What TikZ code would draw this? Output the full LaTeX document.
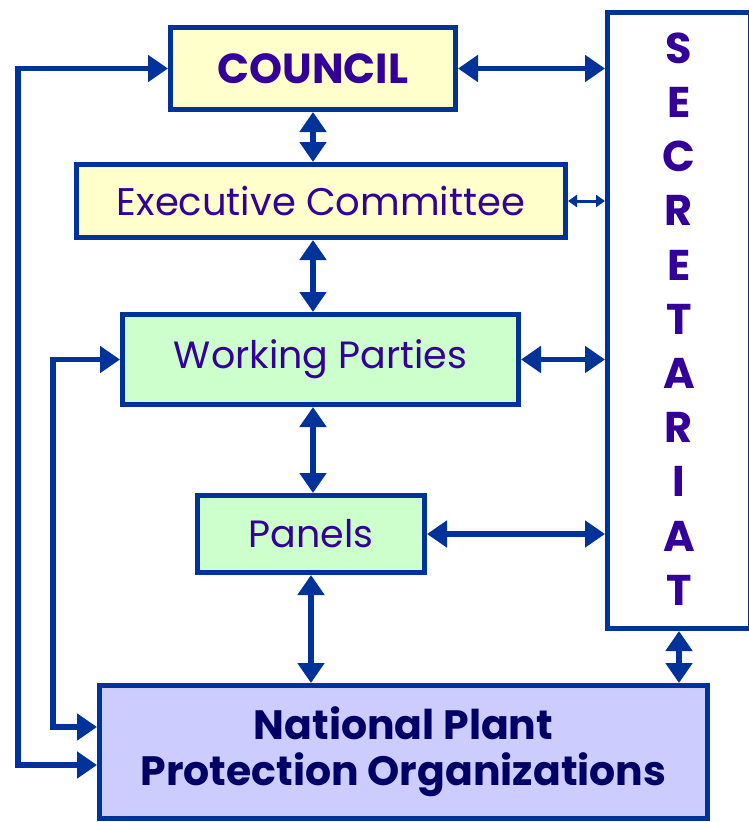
\documentclass[tikz,border=0pt]{standalone}
\usepackage{fontspec}
\setmainfont{Poppins}
\usetikzlibrary{arrows.meta}

\definecolor{ippcblue}{HTML}{003399}
\definecolor{ippcpurple}{HTML}{330099}
\definecolor{ippcnavy}{HTML}{000066}
\definecolor{ippcyellow}{HTML}{FFFFCC}
\definecolor{ippcgreen}{HTML}{CCFFCC}
\definecolor{ippclilac}{HTML}{CCCCFF}

\begin{document}
\begin{tikzpicture}[x=1pt,y=-1pt,
	box/.style={rectangle, draw=ippcblue, line width=5pt, inner sep=0pt, text=ippcpurple},
	link/.style={{Triangle[length=20pt,width=26pt]}-{Triangle[length=20pt,width=26pt]}, draw=ippcblue, fill=ippcblue, line width=5.5pt},
	thinlink/.style={{Triangle[length=9pt,width=12pt]}-{Triangle[length=9pt,width=12pt]}, draw=ippcblue, fill=ippcblue, line width=3pt}]

	\useasboundingbox (0,0) rectangle (749,822);

	\node 	(council)	at	(313,68.5) 	[box, fill=ippcyellow, minimum width=285pt, minimum height=82pt, font=\fontsize{42}{46}\selectfont\bfseries]{COUNCIL};

	\node 	(exec)		at	(321,201) 	[box, fill=ippcyellow, minimum width=489pt, minimum height=73pt, font=\fontsize{38.5}{44}\selectfont]{Executive Committee};

	\node 	(wp)		at	(320.5,359.5) 	[box, fill=ippcgreen, minimum width=396pt, minimum height=90pt, font=\fontsize{38}{44}\selectfont]{Working Parties};

	\node 	(panels)	at	(311,534) 	[box, fill=ippcgreen, minimum width=227pt, minimum height=77pt, font=\fontsize{38}{44}\selectfont]{Panels};

	\node 	(nppo)		at	(403.5,752) 	[box, fill=ippclilac, text=ippcnavy, minimum width=608pt, minimum height=133pt, align=center, font=\fontsize{41}{46}\selectfont\bfseries]{National Plant\\Protection Organizations};

	\node 	(sec)		at	(679,320.5) 	[box, fill=white, minimum width=143pt, minimum height=616pt]{};

	\node 	(seclabel)	at	(679,319) 	[text=ippcpurple, align=center, inner sep=0pt, font=\fontsize{43}{54.2}\selectfont\bfseries]{S\\E\\C\\R\\E\\T\\A\\R\\I\\A\\T};

	\coordinate 	(outerx)	at	(18,400);
	\coordinate 	(innerx)	at	(53,500);

	% chain down the middle
	\draw[link] 	(council.south) 	--	(council.south |- exec.north);
	\draw[link] 	(exec.south -| council.south) 	--	(council.south |- wp.north);
	\draw[link] 	(wp.south -| council.south) 	--	(council.south |- panels.north);
	\draw[link] 	(panels.south) 	--	(panels.south |- nppo.north);

	% to the secretariat
	\draw[link] 	(council.east) 	--	(council.east -| sec.west);
	\draw[thinlink] 	(exec.east) 	--	(exec.east -| sec.west);
	\draw[link] 	(wp.east) 	--	(wp.east -| sec.west);
	\draw[link] 	(panels.east) 	--	(panels.east -| sec.west);
	\draw[link] 	(sec.south) 	--	(sec.south |- nppo.north);

	% loops on the left
	\draw[link, fill=none] 	(council.west) 	-|	(outerx) 	|-	([yshift=-13pt]nppo.west);
	\draw[link, fill=none] 	(wp.west) 	-|	(innerx) 	|-	([yshift=25pt]nppo.west);

\end{tikzpicture}
\end{document}
